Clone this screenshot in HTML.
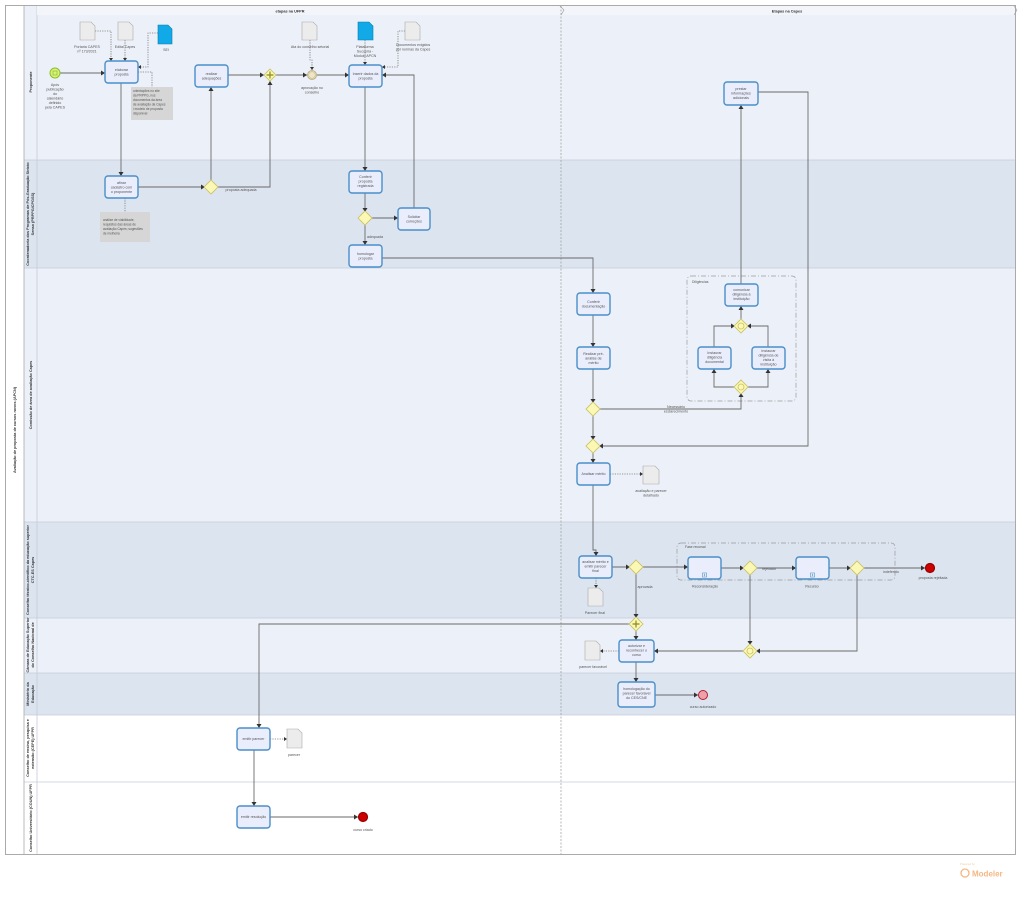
<!DOCTYPE html>
<html><head><meta charset="utf-8"><style>
html,body{margin:0;padding:0;background:#fff;}
svg{display:block;font-family:"Liberation Sans",sans-serif;}
.t{fill:#e9edfc;stroke:#4a8fc9;stroke-width:1.4;}
.tx{font-size:3.6px;fill:#555;text-anchor:middle;}
.lb{font-size:3.6px;fill:#555;text-anchor:middle;}
.f{fill:none;stroke:#6a6a6a;stroke-width:0.9;}
.d{fill:none;stroke:#777;stroke-width:0.8;stroke-dasharray:1.2,1.2;}
.g{fill:#fbf7b4;stroke:#c8c060;stroke-width:0.8;}
.doc{fill:#ececec;stroke:#aaa;stroke-width:0.6;}
.bdoc{fill:#11a9e8;stroke:#0a7fb0;stroke-width:0.6;}
.ln{font-size:3.8px;fill:#333;font-weight:bold;text-anchor:middle;}
</style></head><body>
<svg width="1024" height="908" viewBox="0 0 1024 908" xmlns="http://www.w3.org/2000/svg">
<defs>
<marker id="a" markerWidth="5" markerHeight="5" refX="4" refY="2.5" orient="auto" markerUnits="userSpaceOnUse"><path d="M0,0 L4,2.5 L0,5z" fill="#333"/></marker>
<marker id="o" markerWidth="4" markerHeight="4" refX="3" refY="2" orient="auto" markerUnits="userSpaceOnUse"><path d="M0,0 L3,2 L0,4z" fill="#333"/></marker>
</defs>
<rect x="0" y="0" width="1024" height="908" fill="#fff"/>
<!-- pool -->
<rect x="5.5" y="5.5" width="1010" height="849" fill="#fff" stroke="#aaa" stroke-width="1"/>
<!-- lanes -->
<rect x="24" y="6" width="991" height="154" fill="#ecf0f8"/>
<rect x="24" y="160" width="991" height="108" fill="#dce4f0"/>
<rect x="24" y="268" width="991" height="254" fill="#ecf0f8"/>
<rect x="24" y="522" width="991" height="96" fill="#dce4f0"/>
<rect x="24" y="618" width="991" height="55" fill="#ecf0f8"/>
<rect x="24" y="673" width="991" height="42" fill="#dce4f0"/>
<rect x="24" y="715" width="991" height="67" fill="#fff"/>
<rect x="24" y="782" width="991" height="72" fill="#fff"/>
<g stroke="#c5ccd8" stroke-width="0.8">
<line x1="24" y1="160" x2="1015" y2="160"/><line x1="24" y1="268" x2="1015" y2="268"/>
<line x1="24" y1="522" x2="1015" y2="522"/><line x1="24" y1="618" x2="1015" y2="618"/>
<line x1="24" y1="673" x2="1015" y2="673"/><line x1="24" y1="715" x2="1015" y2="715"/>
<line x1="24" y1="782" x2="1015" y2="782"/>
<line x1="24" y1="6" x2="24" y2="854" stroke="#aaa"/>
<line x1="37" y1="6" x2="37" y2="854"/>
</g>
<!-- phase header -->
<rect x="37" y="6" width="978" height="9" fill="#f3f5fa"/>
<line x1="561" y1="6" x2="561" y2="854" stroke="#999" stroke-width="0.7" stroke-dasharray="2,1.5"/>
<path d="M560,6 L564,10 L561,15" fill="none" stroke="#999" stroke-width="0.6"/>
<path d="M1014,6 L1017,10 L1014,15" fill="none" stroke="#999" stroke-width="0.6"/>
<text x="290" y="12.5" class="ln">etapas na UFPR</text>
<text x="787" y="12.5" class="ln">Etapas na Capes</text>
<!-- pool & lane labels -->
<text class="ln" font-size="4.2" transform="translate(16,430) rotate(-90)">Avaliação de proposta de cursos novos (APCN)</text>
<g class="ln" font-size="3.4">
<text transform="translate(32,82) rotate(-90)">Proponente</text>
<text transform="translate(29,214) rotate(-90)">Coordenadoria dos Programas de Pós-Graduação Stricto</text>
<text transform="translate(34,214) rotate(-90)">Senso (PRPPG/CPGSS)</text>
<text transform="translate(32,395) rotate(-90)">Comissão de área de avaliação Capes</text>
<text transform="translate(29,570) rotate(-90)">Conselho técnico-científico da educação superior</text>
<text transform="translate(34,570) rotate(-90)">CTC-ES Capes</text>
<text transform="translate(29,645) rotate(-90)">Câmara de Educação Superior</text>
<text transform="translate(34,645) rotate(-90)">do Conselho Nacional de</text>
<text transform="translate(29,694) rotate(-90)">Ministério da</text>
<text transform="translate(34,694) rotate(-90)">Educação</text>
<text transform="translate(29,748) rotate(-90)">Conselho de ensino, pesquisa e</text>
<text transform="translate(34,748) rotate(-90)">extensão (CEPE) UFPR</text>
<text transform="translate(32,818) rotate(-90)">Conselho Universitário (COUN) UFPR</text>
</g>

<!-- groups -->
<rect x="687" y="276" width="109" height="125" rx="4" fill="none" stroke="#999" stroke-width="0.7" stroke-dasharray="5,2,1,2"/>
<text x="692" y="283" font-size="3.4" fill="#555">Diligências</text>
<rect x="677" y="543" width="218" height="37" rx="4" fill="none" stroke="#999" stroke-width="0.7" stroke-dasharray="5,2,1,2"/>
<text x="685" y="548" font-size="3.4" fill="#555">Fase recursal</text>

<!-- flows -->
<g class="f" marker-end="url(#a)">
<path d="M60,73 H105"/>
<path d="M121,83 V176"/>
<path d="M138,187 H205"/>
<path d="M211,181 V87"/>
<path d="M217,187 H270 V81"/>
<path d="M228,75 H264"/>
<path d="M276,75 H307"/>
<path d="M317,75 H349"/>
<path d="M365,87 V171"/>
<path d="M365,193 V212"/>
<path d="M371,218 H398"/>
<path d="M414,208 V75 H382"/>
<path d="M365,224 V245"/>
<path d="M382,258 H593 V293"/>
<path d="M593,315 V347"/>
<path d="M593,369 V403"/>
<path d="M599,409 H741 V393"/>
<path d="M735,387 H714 V369"/>
<path d="M747,387 H768 V369"/>
<path d="M714,347 V326 H735"/>
<path d="M768,347 V326 H747"/>
<path d="M741,320 V306"/>
<path d="M741,284 V105"/>
<path d="M758,92 H808 V446 H599"/>
<path d="M593,415 V440"/>
<path d="M593,452 V463"/>
<path d="M593,485 V550 H596 V556"/>
<path d="M612,567 H630"/>
<path d="M642,567 H688"/>
<path d="M636,573 V618"/>
<path d="M630,624 H259 V728"/>
<path d="M636,630 V640"/>
<path d="M721,568 H744"/>
<path d="M756,568 H796"/>
<path d="M750,574 V645"/>
<path d="M829,568 H851"/>
<path d="M863,568 H925"/>
<path d="M857,574 V651 H756"/>
<path d="M744,651 H654"/>
<path d="M636,662 V682"/>
<path d="M655,695 H698"/>
<path d="M254,750 V806"/>
<path d="M270,817 H358"/>
</g>
<g class="d" marker-end="url(#o)">
<path d="M95,31 H111 V61"/>
<path d="M125,40 V61"/>
<path d="M158,33 H148 V67 H138"/>
<path d="M310,40 V60 H312 V70"/>
<path d="M365,40 V65"/>
<path d="M405,31 H398 V67 H382"/>
<path d="M610,474 H643"/>
<path d="M596,578 V588"/>
<path d="M619,651 H600"/>
<path d="M270,739 H287"/>
</g>
<g class="d"><path d="M138,72 H152 V87"/><path d="M125,198 V212"/></g>

<!-- annotations -->
<rect x="131" y="87" width="42" height="33" fill="#d6d6d6"/>
<g font-size="3.2" fill="#555"><text x="133" y="92">orientações no site</text><text x="133" y="96.5">da PRPPG, nos</text><text x="133" y="101">documentos da área</text><text x="133" y="105.5">de avaliação da Capes</text><text x="133" y="110">i modelo de proposta</text><text x="133" y="114.5">disponível</text></g>
<rect x="100" y="212" width="50" height="30" fill="#d6d6d6"/>
<g font-size="3.2" fill="#555"><text x="103" y="221">análise de viabilidade,</text><text x="103" y="225.5">requisitos das áreas de</text><text x="103" y="230">avaliação Capes; sugestões</text><text x="103" y="234.5">de melhoria</text></g>

<!-- docs -->
<g>
<path class="doc" d="M80,22 H91 L95,26 V40 H80z"/>
<path class="doc" d="M118,22 H129 L133,26 V40 H118z"/>
<path class="bdoc" d="M158,25 H168 L172,29 V44 H158z"/>
<path class="doc" d="M302,22 H313 L317,26 V40 H302z"/>
<path class="bdoc" d="M358,22 H369 L373,26 V40 H358z"/>
<path class="doc" d="M405,22 H416 L420,26 V40 H405z"/>
<path class="doc" d="M643,466 H655 L659,470 V484 H643z"/>
<path class="doc" d="M588,588 H599 L603,592 V606 H588z"/>
<path class="doc" d="M585,641 H596 L600,645 V660 H585z"/>
<path class="doc" d="M287,729 H298 L302,733 V748 H287z"/>
</g>
<g class="lb">
<text x="87" y="48">Portaria CAPES</text><text x="87" y="52.5">nº 173/2021</text>
<text x="125" y="48">Edital Capes</text>
<text x="166" y="51">SEI</text>
<text x="310" y="48">Ata do conselho setorial</text>
<text x="365" y="48">Plataforma</text><text x="365" y="52.5">Sucupira -</text><text x="365" y="57">Módulo APCN</text>
<text x="413" y="46">Documentos exigidos</text><text x="413" y="50.5">por normas da Capes</text>
<text x="651" y="492">avaliação e parecer</text><text x="651" y="496.5">detalhado</text>
<text x="595" y="614">Parecer final</text>
<text x="593" y="668">parecer favorável</text>
<text x="294" y="756">parecer</text>
</g>

<!-- events -->
<circle cx="55" cy="73" r="5" fill="#d9f27a" stroke="#8cbf26" stroke-width="1"/>
<rect x="53" y="71" width="4" height="4" fill="none" stroke="#7aa020" stroke-width="0.5"/>
<g class="lb"><text x="55" y="86">Após</text><text x="55" y="90.5">publicação</text><text x="55" y="95">do</text><text x="55" y="99.5">calendário</text><text x="55" y="104">definido</text><text x="55" y="108.5">pela CAPES</text></g>
<circle cx="312" cy="75" r="4.5" fill="#ebe6c9" stroke="#b8a870" stroke-width="0.8"/>
<circle cx="312" cy="75" r="3.3" fill="none" stroke="#b8a870" stroke-width="0.5"/>
<text x="312" y="89" class="lb">aprovação no</text><text x="312" y="93.5" class="lb">conselho</text>
<circle cx="930" cy="568" r="4.5" fill="#c00" stroke="#900" stroke-width="1.2"/>
<text x="933" y="579" class="lb">proposta rejeitada</text>
<circle cx="703" cy="695" r="4.5" fill="#f0a0a8" stroke="#b02030" stroke-width="1"/>
<text x="703" y="708" class="lb">curso autorizado</text>
<circle cx="363" cy="817" r="4.5" fill="#c00" stroke="#900" stroke-width="1.2"/>
<text x="363" y="831" class="lb">curso criado</text>

<!-- gateways -->
<g>
<path class="g" d="M270,69 L276,75 L270,81 L264,75z"/><path d="M270,71.5 V78.5 M266.5,75 H273.5" stroke="#8a8a20" stroke-width="1.2"/>
<path class="g" d="M211,180 L218,187 L211,194 L204,187z"/>
<path class="g" d="M365,211 L372,218 L365,225 L358,218z"/>
<path class="g" d="M593,402 L600,409 L593,416 L586,409z"/>
<path class="g" d="M593,439 L600,446 L593,453 L586,446z"/>
<path class="g" d="M741,319 L748,326 L741,333 L734,326z"/><circle cx="741" cy="326" r="3" fill="none" stroke="#c8c060" stroke-width="0.8"/>
<path class="g" d="M741,380 L748,387 L741,394 L734,387z"/><circle cx="741" cy="387" r="3" fill="none" stroke="#c8c060" stroke-width="0.8"/>
<path class="g" d="M636,560 L643,567 L636,574 L629,567z"/>
<path class="g" d="M750,561 L757,568 L750,575 L743,568z"/>
<path class="g" d="M857,561 L864,568 L857,575 L850,568z"/>
<path class="g" d="M636,617 L643,624 L636,631 L629,624z"/><path d="M636,620.5 V627.5 M632.5,624 H639.5" stroke="#8a8a20" stroke-width="1.2"/>
<path class="g" d="M750,644 L757,651 L750,658 L743,651z"/><circle cx="750" cy="651" r="3" fill="none" stroke="#c8c060" stroke-width="0.8"/>
</g>
<g class="lb">
<text x="241" y="191">proposta adequada</text>
<text x="375" y="238">adequada</text>
<text x="676" y="408">Necessário</text><text x="676" y="412.5">esclarecimento</text>
<text x="645" y="588">aprovada</text>
<text x="769" y="570">rejeitado</text>
<text x="891" y="573">indeferido</text>
</g>

<!-- tasks -->
<g>
<rect class="t" x="105" y="61" width="33" height="22" rx="3"/>
<rect class="t" x="195" y="65" width="33" height="22" rx="3"/>
<rect class="t" x="349" y="65" width="33" height="22" rx="3"/>
<rect class="t" x="724" y="82" width="34" height="23" rx="3"/>
<rect class="t" x="105" y="176" width="33" height="22" rx="3"/>
<rect class="t" x="349" y="171" width="33" height="22" rx="3"/>
<rect class="t" x="398" y="208" width="32" height="22" rx="3"/>
<rect class="t" x="349" y="245" width="33" height="22" rx="3"/>
<rect class="t" x="577" y="293" width="33" height="22" rx="3"/>
<rect class="t" x="577" y="347" width="33" height="22" rx="3"/>
<rect class="t" x="725" y="284" width="33" height="22" rx="3"/>
<rect class="t" x="698" y="347" width="33" height="22" rx="3"/>
<rect class="t" x="752" y="347" width="33" height="22" rx="3"/>
<rect class="t" x="577" y="463" width="33" height="22" rx="3"/>
<rect class="t" x="579" y="556" width="33" height="22" rx="3"/>
<rect class="t" x="688" y="557" width="33" height="22" rx="3"/>
<rect class="t" x="796" y="557" width="33" height="22" rx="3"/>
<rect class="t" x="619" y="640" width="35" height="22" rx="3"/>
<rect class="t" x="618" y="682" width="37" height="25" rx="3"/>
<rect class="t" x="237" y="728" width="33" height="22" rx="3"/>
<rect class="t" x="237" y="806" width="33" height="22" rx="3"/>
</g>
<rect x="702.5" y="573" width="4" height="4" fill="#fff" stroke="#4a8fc9" stroke-width="0.6"/><path d="M704.5,573.8 V576.2 M703.3,575 H705.7" stroke="#4a8fc9" stroke-width="0.6"/>
<rect x="810.5" y="573" width="4" height="4" fill="#fff" stroke="#4a8fc9" stroke-width="0.6"/><path d="M812.5,573.8 V576.2 M811.3,575 H813.7" stroke="#4a8fc9" stroke-width="0.6"/>
<g class="tx">
<text x="121.5" y="71">elaborar</text><text x="121.5" y="75.5">proposta</text>
<text x="211.5" y="75">realizar</text><text x="211.5" y="79.5">adequações</text>
<text x="365.5" y="75">Inserir dados da</text><text x="365.5" y="79.5">proposta</text>
<text x="741" y="90">prestar</text><text x="741" y="94.5">informações</text><text x="741" y="99">adicionais</text>
<text x="121.5" y="184">afinar</text><text x="121.5" y="188.5">cadastro com</text><text x="121.5" y="193">o proponente</text>
<text x="365.5" y="178">Conferir</text><text x="365.5" y="182.5">proposta</text><text x="365.5" y="187">registrada</text>
<text x="414" y="218">Solicitar</text><text x="414" y="222.5">correções</text>
<text x="365.5" y="255">homologar</text><text x="365.5" y="259.5">proposta</text>
<text x="593.5" y="303">Conferir</text><text x="593.5" y="307.5">documentação</text>
<text x="593.5" y="355">Realizar pré-</text><text x="593.5" y="359.5">análise de</text><text x="593.5" y="364">mérito</text>
<text x="741.5" y="291">comunicar</text><text x="741.5" y="295.5">diligência à</text><text x="741.5" y="300">instituição</text>
<text x="714.5" y="354">Instaurar</text><text x="714.5" y="358.5">diligência</text><text x="714.5" y="363">documental</text>
<text x="768.5" y="352">Instaurar</text><text x="768.5" y="356.5">diligência de</text><text x="768.5" y="361">visita à</text><text x="768.5" y="365.5">instituição</text>
<text x="593.5" y="475">Analisar mérito</text>
<text x="595.5" y="563">analisar mérito e</text><text x="595.5" y="567.5">emitir parecer</text><text x="595.5" y="572">final</text>
<text x="636.5" y="647">autorizar e</text><text x="636.5" y="651.5">reconhecer o</text><text x="636.5" y="656">curso</text>
<text x="636.5" y="690">homologação do</text><text x="636.5" y="694.5">parecer favorável</text><text x="636.5" y="699">do CES/CNE</text>
<text x="253.5" y="740">emitir parecer</text>
<text x="253.5" y="818">emitir resolução</text>
</g>
<g class="lb"><text x="705" y="587.5">Reconsideração</text><text x="812" y="587.5">Recurso</text></g>

<!-- logo -->
<text x="960" y="865" font-size="2.8" fill="#f5c9a0">Powered by</text>
<circle cx="965" cy="873" r="4" fill="none" stroke="#f5b783" stroke-width="1.3"/>
<text x="972" y="876.5" font-size="8" fill="#f5b783" font-weight="bold">Modeler</text>
</svg>
</body></html>
